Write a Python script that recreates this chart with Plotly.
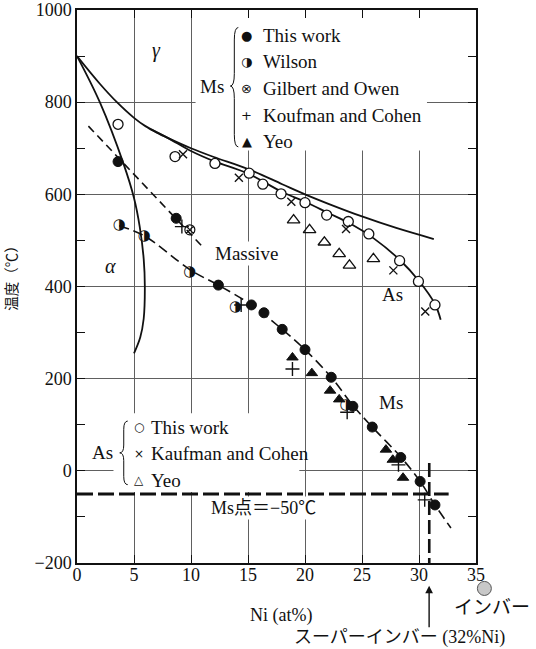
import plotly.graph_objects as go

# ---------------- data ----------------
# Ms points
ms_this_x = [3.6, 8.7, 12.4, 15.3, 16.4, 18.0, 20.0, 22.3, 24.2, 25.9, 28.4, 30.1, 31.4]
ms_this_y = [671, 548, 403, 360, 343, 307, 263, 203, 140, 95, 29, -23, -74]
ms_wilson_x = [3.7, 5.9, 9.9, 13.9, 23.6]
ms_wilson_y = [532, 510, 432, 354, 142]
ms_gilbert_x = [9.9]
ms_gilbert_y = [523]
ms_koufman_x = [9.2, 14.4, 18.9, 23.7, 28.2, 30.5]
ms_koufman_y = [530, 360, 221, 127, 13, -63]
ms_yeo_x = [18.9, 20.6, 22.2, 23.0, 27.1, 27.7, 28.6]
ms_yeo_y = [246, 212, 174, 155, 46, 24, -15]
# As points
as_this_x = [3.6, 8.6, 12.1, 15.1, 16.3, 17.9, 20.0, 21.9, 23.8, 25.6, 28.3, 29.95, 31.4]
as_this_y = [752, 682, 667, 646, 622, 601, 582, 555, 541, 514, 456, 411, 360]
as_kaufman_x = [9.3, 14.2, 18.8, 23.6, 27.75, 30.55]
as_kaufman_y = [687, 636, 584, 525, 435, 346]
as_yeo_x = [19.0, 20.4, 21.7, 23.0, 23.9, 26.0]
as_yeo_y = [544, 523, 496, 471, 446, 460]

# boundary curves
upper_x = [0, 2, 3.5, 5, 6, 7, 8, 10, 12, 15, 18, 20, 22, 25, 28, 31.3]
upper_y = [900, 840, 800, 766, 748, 734, 722, 700, 681, 655, 622, 600, 580, 552, 527, 503]
as_curve_x = [6.5, 8, 10, 12, 15, 18, 20, 22, 24, 26, 28.3, 30, 31.4, 31.9]
as_curve_y = [741, 722, 694, 672, 645, 605, 584, 560, 536, 505, 458, 412, 362, 328]
alpha_x = [0, 2, 4.1, 5, 5.5, 5.85, 5.95, 5.85, 5.55, 5.0]
alpha_y = [900, 800, 665, 592, 530, 460, 400, 330, 290, 255]
ms_line_x = [3.7, 5.9, 10, 12.4, 15.3, 18, 20, 22.3, 24.2, 25.9, 28.4, 30.1, 31.4, 32.8]
ms_line_y = [532, 510, 435, 403, 360, 307, 263, 203, 142, 95, 30, -23, -74, -124]
massive_x = [1, 11.1]
massive_y = [748, 484]
ms_limit_x = [0, 32.6]
ms_limit_y = [-50, -50]
superinvar_x = [30.9, 30.9]
superinvar_y = [17, -200]

x_ticks = [0, 5, 10, 15, 20, 25, 30, 35]
y_ticks = [-200, 0, 200, 400, 600, 800, 1000]

SERIF = "Liberation Serif, Times New Roman, serif"
SERIF_JA = "Liberation Serif, Noto Sans CJK JP, serif"
GLYPH = "DejaVu Sans"
K = "#111111"

fig = go.Figure()

def line(x, y, width=1.8, dash=None, shape="spline"):
    fig.add_trace(go.Scatter(x=x, y=y, mode="lines",
                             line=dict(color=K, width=width, dash=dash, shape=shape, smoothing=1.0),
                             hoverinfo="skip", showlegend=False))

line(upper_x, upper_y)
line(as_curve_x, as_curve_y)
line(alpha_x, alpha_y)
line(ms_line_x, ms_line_y, 1.6, "10px,5px")
line(massive_x, massive_y, 1.6, "8px,5px", "linear")
line(ms_limit_x, ms_limit_y, 3, "16px,5px", "linear")
line(superinvar_x, superinvar_y, 2.6, "14px,5px", "linear")

def pts(x, y, symbol, size=10, fill=K, lw=1.3):
    fig.add_trace(go.Scatter(x=x, y=y, mode="markers", cliponaxis=False,
                             marker=dict(symbol=symbol, size=size, color=fill,
                                         line=dict(color=K, width=lw)),
                             hoverinfo="skip", showlegend=False))

pts(as_this_x, as_this_y, "circle", 10, "white", 1.3)
pts(as_kaufman_x, as_kaufman_y, "x-thin-open", 8, K, 1.4)
pts(as_yeo_x, as_yeo_y, "triangle-up-open", 11, K, 1.3)
pts(ms_this_x, ms_this_y, "circle", 10, K, 1)
pts(ms_gilbert_x, ms_gilbert_y, "circle-x-open", 10, K, 1.2)
pts(ms_koufman_x, ms_koufman_y, "cross-thin-open", 10, K, 1.4)
pts(ms_yeo_x, ms_yeo_y, "triangle-up", 10, K, 1)
fig.add_trace(go.Scatter(x=ms_wilson_x, y=ms_wilson_y, mode="text", text=["◑"] * len(ms_wilson_x),
                         textposition="middle center", textfont=dict(family=GLYPH, size=15, color=K),
                         hoverinfo="skip", showlegend=False))

shapes = [
    dict(type="rect", xref="x", yref="y", x0=10.4, x1=30.7, y0=695, y1=1000,
         fillcolor="white", line=dict(width=0), layer="between"),
    dict(type="rect", xref="x", yref="y", x0=3.2, x1=19.5, y0=-46, y1=125,
         fillcolor="white", line=dict(width=0), layer="between"),
    dict(type="path", xref="x", yref="y", layer="above",
         path="M 14.15,962 Q 13.8,962 13.8,935 L 13.8,862 Q 13.8,835 13.45,835 "
              "Q 13.8,835 13.8,808 L 13.8,730 Q 13.8,703 14.15,703",
         line=dict(color=K, width=1)),
    dict(type="path", xref="x", yref="y", layer="above",
         path="M 4.45,108 Q 4.1,108 4.1,90 L 4.1,56 Q 4.1,39 3.75,39 "
              "Q 4.1,39 4.1,22 L 4.1,-12 Q 4.1,-30 4.45,-30",
         line=dict(color=K, width=1)),
    dict(type="circle", xref="paper", yref="paper",
         x0=1.021 - 0.0175, x1=1.021 + 0.0175, y0=-0.046 - 0.0127, y1=-0.046 + 0.0127,
         fillcolor="#c8c8c8", line=dict(color="#555", width=1)),
]

ann = []
def txt(x, y, s, size=19, xanchor="center", ref="x", yref="y", bg=None, font=SERIF, angle=0):
    d = dict(x=x, y=y, xref=ref, yref=yref, text=s, showarrow=False, xanchor=xanchor,
             yanchor="middle", font=dict(family=font, size=size, color=K), textangle=angle)
    if bg:
        d["bgcolor"] = bg
        d["borderpad"] = 1
    ann.append(d)

txt(11.8, 834, "Ms")
top_keys = ["●", "◑", "⊗", "+", "▲"]
top_labels = ["This work", "Wilson", "Gilbert and Owen", "Koufman and Cohen", "Yeo"]
top_rows = [945, 888, 830, 772, 714]
for g, lab, r in zip(top_keys, top_labels, top_rows):
    txt(14.9, r, g, 13, font=GLYPH)
    txt(16.1, r, lab, 19, "left")
txt(2.2, 39, "As")
bot_keys = ["○", "×", "△"]
bot_labels = ["This work", "Kaufman and Cohen", "Yeo"]
bot_rows = [95, 37.5, -20]
for g, lab, r in zip(bot_keys, bot_labels, bot_rows):
    txt(5.4, r, g, 12, font=GLYPH)
    txt(6.3, r, lab, 19, "left")

txt(7.0, 912, "<i>γ</i>", 20)
txt(2.9, 444, "<i>α</i>", 20)
txt(14.9, 471, "Massive", 19, bg="white")
txt(27.7, 383, "As", 19)
txt(27.5, 148, "Ms", 19)
txt(16.4, -81, "Ms点＝−50℃", 18, bg="white", font=SERIF_JA)

txt(-0.162, 0.522, "温度（℃）", 14.5, ref="paper", yref="paper", angle=-90, font=SERIF_JA)
txt(0.512, -0.0946, "Ni (at%)", 18, ref="paper", yref="paper")
txt(0.94, -0.080, "インバー", 19, "left", ref="paper", yref="paper", font=SERIF_JA)
txt(0.539, -0.1344, "スーパーインバー (32%Ni)", 18, "left", ref="paper", yref="paper", font=SERIF_JA)
ann.append(dict(x=0.8825, y=-0.041, xref="paper", yref="paper", text="", showarrow=True,
                ax=0, ay=43, arrowhead=2, arrowsize=1.1, arrowwidth=1.4, arrowcolor=K))

axis_common = dict(showline=True, linecolor=K, linewidth=1.5, mirror="ticks",
                   ticks="inside", ticklen=8, tickcolor=K, tickwidth=1.2, automargin=False,
                   showgrid=True, gridcolor="#606060", gridwidth=1, zeroline=False,
                   tickfont=dict(family=SERIF, size=18, color=K))

fig.update_layout(
    width=536, height=649,
    margin=dict(l=77, r=60, t=10, b=86, autoexpand=False),
    paper_bgcolor="white", plot_bgcolor="white",
    xaxis=dict(range=[0, 35], tickvals=x_ticks, ticklabelstandoff=-5, **axis_common),
    yaxis=dict(range=[-200, 1000], tickvals=y_ticks,
               minor=dict(dtick=100, ticks="inside", ticklen=8, tickcolor=K, showgrid=False),
               **axis_common),
    shapes=shapes, annotations=ann, showlegend=False,
)

fig.write_html("out.html", config={"displayModeBar": False},
               post_script="document.body.style.margin='0';document.body.style.overflow='hidden';")
